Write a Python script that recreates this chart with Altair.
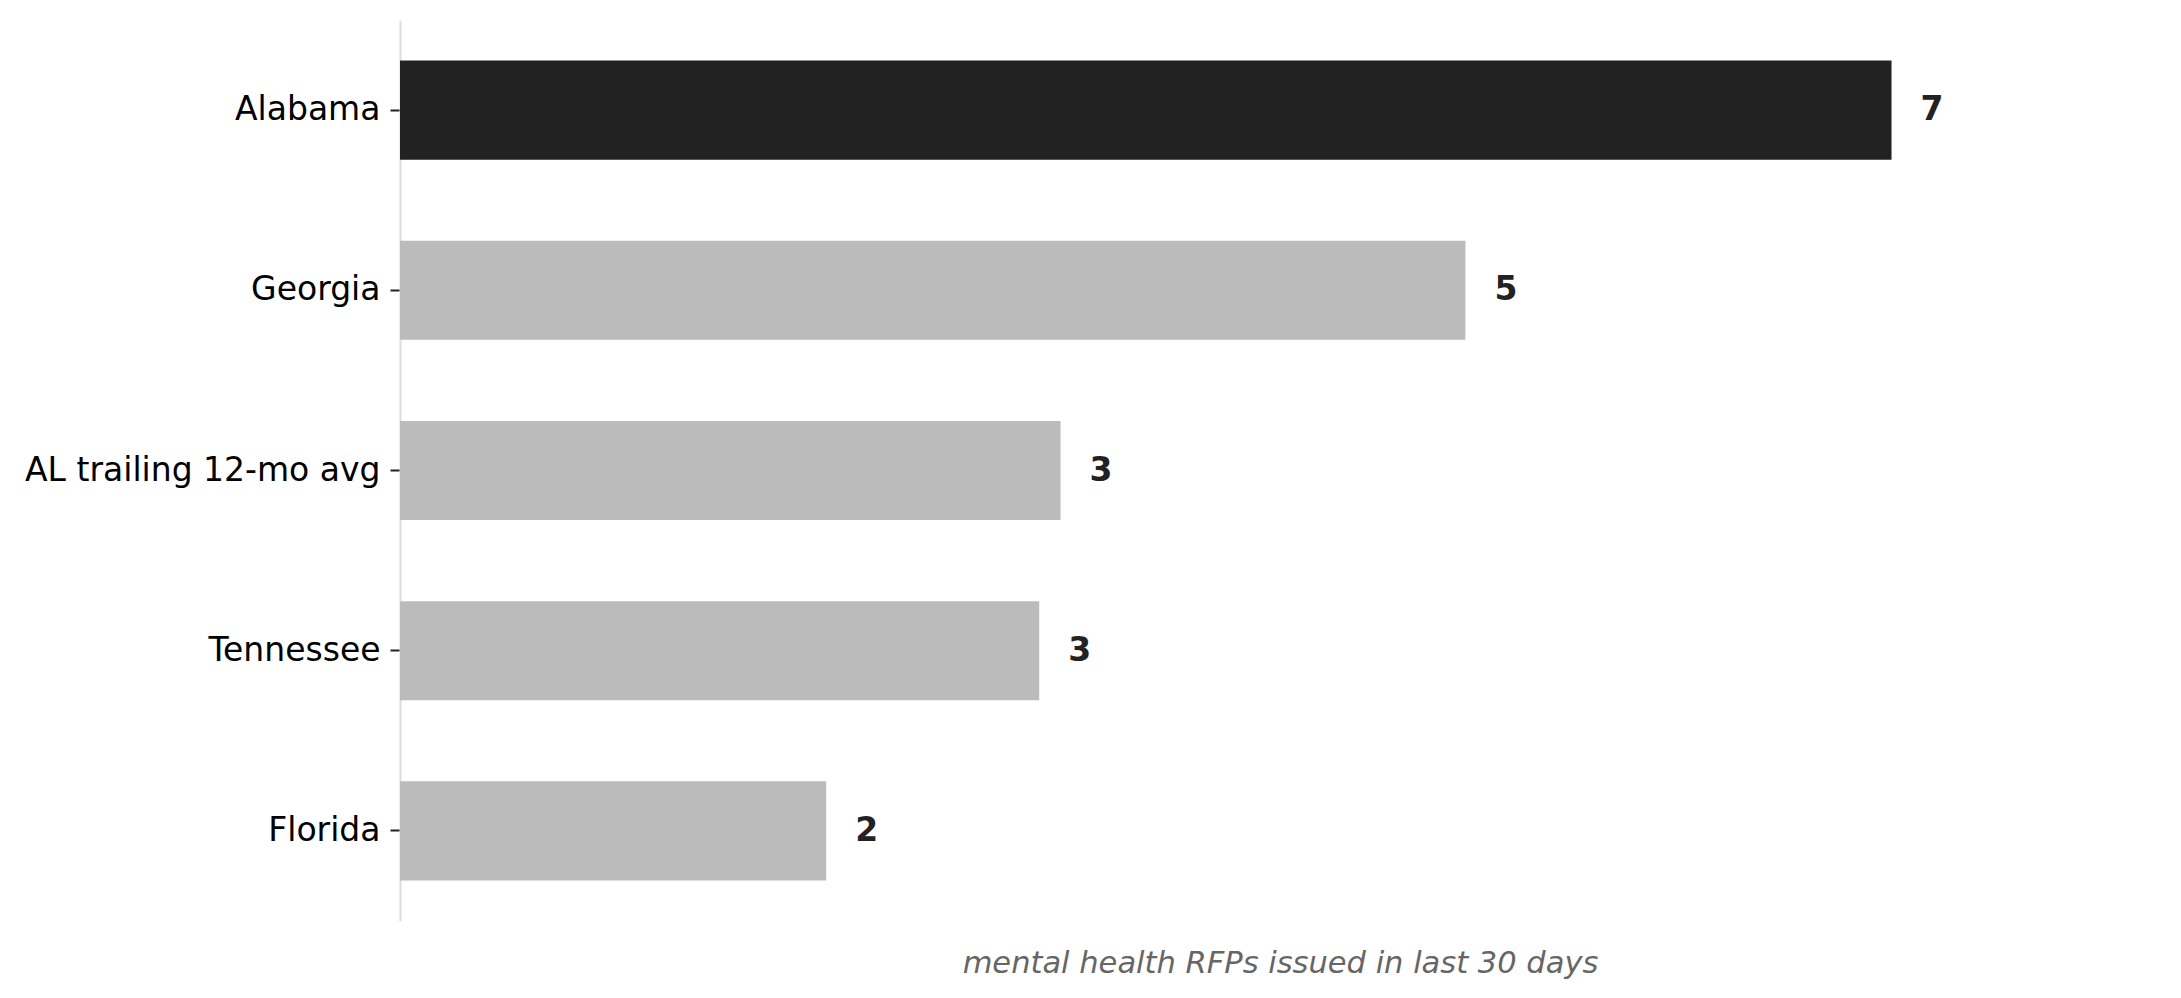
import pandas as pd
import altair as alt

states = ['Alabama', 'Georgia', 'AL trailing 12-mo avg', 'Tennessee', 'Florida']
rfps = [7, 5, 3.1, 3, 2]
highlight = 'Alabama'

df = pd.DataFrame({'state': states, 'rfps': rfps})

base = alt.Chart(df).encode(
    y=alt.Y('state:N', sort=states, title=None,
            scale=alt.Scale(paddingInner=0.45, paddingOuter=0.225),
            axis=alt.Axis(labelFont='DejaVu Sans', labelFontSize=33, labelColor='#000000',
                          labelLimit=600, labelPadding=10, tickSize=10, tickColor='#222222',
                          tickWidth=2, domainColor='#dddddd', domainWidth=2)),
)

bars = base.mark_bar().encode(
    x=alt.X('rfps:Q', title='mental health RFPs issued in last 30 days',
            scale=alt.Scale(domain=[0, 8.26], nice=False, zero=True),
            axis=alt.Axis(labels=False, ticks=False, domain=False, grid=False,
                          titleFont='DejaVu Sans', titleFontSize=30.5, titleFontStyle='italic',
                          titleFontWeight='normal', titleColor='#666666', titlePadding=27)),
    color=alt.condition(alt.datum.state == highlight, alt.value('#222222'), alt.value('#bbbbbb')),
)

labels = base.mark_text(align='left', baseline='middle', dx=29, font='DejaVu Sans',
                        fontSize=33, fontWeight='bold', color='#222222').encode(
    x='rfps:Q',
    text=alt.Text('rfps:Q', format='.0f'),
)

chart = (bars + labels).properties(
    width=1760,
    height=901,
    padding={'left': 16, 'top': 12, 'right': 5, 'bottom': 5},
).configure_view(stroke=None).configure_axis(grid=False)

chart.save('out.html', embed_options={'renderer': 'svg', 'actions': False})
